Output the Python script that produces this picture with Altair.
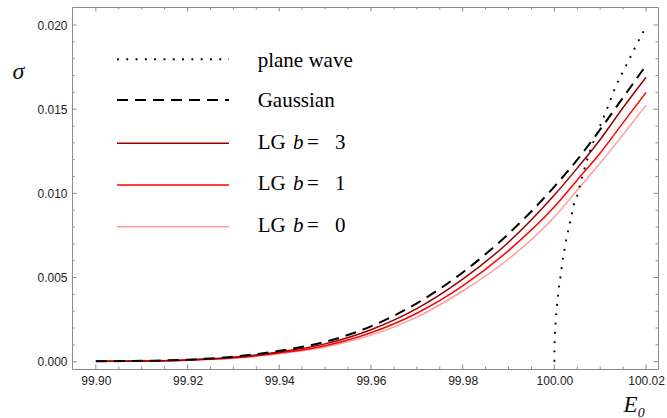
import altair as alt
import pandas as pd

# ---------------- data ----------------
E_grid = [99.90, 99.91, 99.92, 99.93, 99.94, 99.95, 99.96, 99.97, 99.98, 99.99,
          100.00, 100.005, 100.01, 100.015, 100.02]
sigma_gauss = [0.00002, 0.00005, 0.00012, 0.00030, 0.00065, 0.00118, 0.00210, 0.00347,
               0.00530, 0.00760, 0.01040, 0.01200, 0.01380, 0.01570, 0.01760]
sigma_lg3 = [0.00002, 0.00004, 0.00010, 0.00026, 0.00058, 0.00106, 0.00190, 0.00315,
             0.00490, 0.00710, 0.00990, 0.01150, 0.01320, 0.01510, 0.01690]
sigma_lg1 = [0.00002, 0.00004, 0.00009, 0.00023, 0.00052, 0.00095, 0.00172, 0.00288,
             0.00450, 0.00660, 0.00920, 0.01080, 0.01240, 0.01420, 0.01600]
sigma_lg0 = [0.00002, 0.00003, 0.00008, 0.00020, 0.00047, 0.00087, 0.00158, 0.00265,
             0.00420, 0.00610, 0.00860, 0.01020, 0.01180, 0.01350, 0.01524]

pw_E = [100.0, 100.00003, 100.00009, 100.00019, 100.00032, 100.0005, 100.0007, 100.0010,
        100.0013, 100.0016, 100.0019, 100.0023, 100.0027, 100.0032, 100.0037, 100.0042,
        100.0049, 100.0055, 100.0075, 100.0098, 100.0116, 100.0133, 100.0153, 100.0173,
        100.0194, 100.0200]
pw_sigma = [0.0, 0.0007, 0.0013, 0.0019, 0.0025, 0.0031, 0.0037, 0.0044,
            0.0050, 0.0056, 0.0062, 0.0068, 0.0074, 0.0080, 0.00865, 0.0093,
            0.0098, 0.0104, 0.0123, 0.0139, 0.0151, 0.0163, 0.0174, 0.0185,
            0.0196, 0.0199]

x_major = [99.90, 99.92, 99.94, 99.96, 99.98, 100.00, 100.02]
x_minor = [99.905, 99.91, 99.915, 99.925, 99.93, 99.935, 99.945, 99.95, 99.955,
           99.965, 99.97, 99.975, 99.985, 99.99, 99.995, 100.005, 100.01, 100.015]
y_major = [0.000, 0.005, 0.010, 0.015, 0.020]
y_minor = [0.001, 0.002, 0.003, 0.004, 0.006, 0.007, 0.008, 0.009,
           0.011, 0.012, 0.013, 0.014, 0.016, 0.017, 0.018, 0.019]

series_names = ["plane wave", "Gaussian", "LG b = 3", "LG b = 1", "LG b = 0"]

# ---------------- layout / style ----------------
W, H = 586, 362
FRAME = "#8c8c8c"
xs = alt.Scale(domain=[99.8948, 100.0226], nice=False, zero=False)
ys = alt.Scale(domain=[-0.000433, 0.02107], nice=False, zero=False)

xax = alt.Axis(values=x_major, format=".2f", domain=False, ticks=False, grid=False,
               labelFont="Liberation Sans", labelFontSize=12, labelColor="#222",
               labelPadding=6, title="E₀", titleFont="Liberation Serif",
               titleFontStyle="italic", titleFontWeight="normal", titleFontSize=23,
               titleColor="#111", titleX=562, titleY=42, titleAlign="center",
               titleBaseline="alphabetic", titleAnchor="start")
yax = alt.Axis(values=y_major, format=".3f", domain=False, ticks=False, grid=False,
               labelFont="Liberation Sans", labelFontSize=12, labelColor="#222",
               labelPadding=5, title="σ", titleFont="Liberation Serif",
               titleFontStyle="italic", titleFontWeight="normal", titleFontSize=24,
               titleColor="#111", titleAngle=0, titleX=-54, titleY=71,
               titleAlign="center", titleBaseline="alphabetic", titleAnchor="start")

styles = {
    "plane wave": dict(color="black", strokeWidth=1.9, strokeDash=[1.9, 7.4]),
    "Gaussian": dict(color="black", strokeWidth=2.0, strokeDash=[11, 7]),
    "LG b = 3": dict(color="#990000", strokeWidth=1.5),
    "LG b = 1": dict(color="#ff0000", strokeWidth=1.5),
    "LG b = 0": dict(color="#ff9c9c", strokeWidth=1.5),
}


def curve(E, s, name):
    df = pd.DataFrame({"E": E, "sigma": s})
    return alt.Chart(df).mark_line(interpolate="monotone", **styles[name]).encode(
        x=alt.X("E:Q", scale=xs, axis=xax),
        y=alt.Y("sigma:Q", scale=ys, axis=yax),
    )


layers = []
layers.append(curve(E_grid, sigma_lg0, "LG b = 0"))
layers.append(curve(E_grid, sigma_lg1, "LG b = 1"))
layers.append(curve(E_grid, sigma_lg3, "LG b = 3"))
layers.append(curve(E_grid, sigma_gauss, "Gaussian"))
layers.append(curve(pw_E, pw_sigma, "plane wave"))


# inward frame ticks
def yticks(vals, length):
    df = pd.DataFrame({"v": vals})
    left = alt.Chart(df).mark_rule(color=FRAME, strokeWidth=1).encode(
        y=alt.Y("v:Q", scale=ys, axis=yax), x=alt.value(0), x2=alt.value(length))
    right = alt.Chart(df).mark_rule(color=FRAME, strokeWidth=1).encode(
        y=alt.Y("v:Q", scale=ys, axis=yax), x=alt.value(W - length), x2=alt.value(W))
    return [left, right]


def xticks(vals, length):
    df = pd.DataFrame({"v": vals})
    bottom = alt.Chart(df).mark_rule(color=FRAME, strokeWidth=1).encode(
        x=alt.X("v:Q", scale=xs, axis=xax), y=alt.value(H), y2=alt.value(H - length))
    top = alt.Chart(df).mark_rule(color=FRAME, strokeWidth=1).encode(
        x=alt.X("v:Q", scale=xs, axis=xax), y=alt.value(0), y2=alt.value(length))
    return [bottom, top]


layers += yticks(y_major, 4.5) + yticks(y_minor, 2.5)
layers += xticks(x_major, 4.5) + xticks(x_minor, 2.5)

# legend (inside the frame)
one = pd.DataFrame({"k": [0]})
leg_line_y = [52.3, 93.0, 136.3, 178.0, 219.7]
leg_text_y = [59.7, 100.3, 141.8, 183.3, 225.0]
for i, name in enumerate(series_names):
    layers.append(alt.Chart(one).mark_rule(**styles[name]).encode(
        x=alt.value(45), x2=alt.value(157), y=alt.value(leg_line_y[i])))
    if name.startswith("LG"):
        parts = [("LG", 185.7, "normal"), ("b", 221, "italic"),
                 ("=", 235, "normal"), (name.split("= ")[1], 263, "normal")]
    else:
        parts = [(name, 185.7, "normal")]
    for txt, px, fs in parts:
        layers.append(alt.Chart(one).mark_text(
            align="left", baseline="alphabetic", font="Liberation Serif",
            fontSize=21, fontStyle=fs, color="black").encode(
            x=alt.value(px), y=alt.value(leg_text_y[i]), text=alt.value(txt)))

chart = alt.layer(*layers).properties(
    width=W, height=H, autosize="none",
    padding={"left": 72, "top": 7, "right": 9, "bottom": 49},
    background="white",
).configure_view(stroke=FRAME, strokeWidth=1)

chart.save("out.html", embed_options={"renderer": "svg", "actions": False})
